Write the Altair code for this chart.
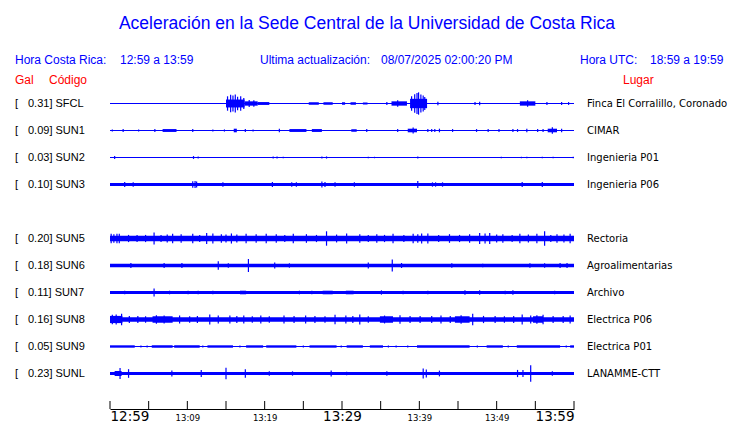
import altair as alt
import pandas as pd

# ---------------- data ----------------
stations = ["SFCL", "SUN1", "SUN2", "SUN3", "SUN5", "SUN6", "SUN7", "SUN8", "SUN9", "SUNL"]
rows = [0, 1, 2, 3, 5, 6, 7, 8, 9, 10]
peak_gal = ["0.31", "0.09", "0.03", "0.10", "0.20", "0.18", "0.11", "0.16", "0.05", "0.23"]
places = ["Finca El Corralillo, Coronado", "CIMAR", "Ingenieria P01", "Ingenieria P06",
          "Rectoria", "Agroalimentarias", "Archivo", "Electrica P06", "Electrica P01", "LANAMME-CTT"]

tick_minutes = list(range(0, 61, 5))
label_minutes = [0, 10, 20, 30, 40, 50, 60]
label_texts = ["12:59", "13:09", "13:19", "13:29", "13:39", "13:49", "13:59"]

# envelope bands (start min, end min, half amplitude in Gal) and spikes (min, half amplitude in Gal)
sfcl_bands = [(0, 60, 0.015), (15.0, 17.4, 0.11), (17.4, 19.1, 0.06), (19.1, 20.6, 0.04), (25.7, 27.0, 0.035),
              (27.6, 28.8, 0.035), (30.0, 30.4, 0.035), (31.1, 31.8, 0.035), (32.7, 33.3, 0.03), (36.4, 38.4, 0.06),
              (38.8, 41.0, 0.13), (53.0, 55.0, 0.06)]
sfcl_spikes = [(15.2, 0.20), (15.6, 0.24), (15.9, 0.22), (16.2, 0.25), (16.5, 0.19), (16.9, 0.20), (17.3, 0.15),
               (18.0, 0.10), (18.6, 0.09), (35.8, 0.04), (37.2, 0.09), (39.0, 0.20), (39.4, 0.26), (39.7, 0.29),
               (39.9, 0.31), (40.2, 0.25), (40.5, 0.22), (40.7, 0.18), (42.4, 0.05), (47.2, 0.04), (47.8, 0.05),
               (54.0, 0.09), (56.5, 0.04), (58.4, 0.04), (59.3, 0.04)]

sun1_bands = [(0, 60, 0.012), (6.8, 8.6, 0.04), (16.0, 16.4, 0.05), (23.2, 25.4, 0.04), (26.1, 27.4, 0.04),
              (31.2, 31.9, 0.035), (38.5, 39.7, 0.05), (50.2, 50.4, 0.035), (56.6, 57.8, 0.05)]
sun1_spikes = [(0.3, 0.03), (1.7, 0.04), (3.7, 0.03), (5.8, 0.04), (10.7, 0.04), (13.3, 0.03), (14.8, 0.03),
               (17.5, 0.04), (18.5, 0.03), (21.9, 0.05), (33.2, 0.04), (37.2, 0.04), (39.2, 0.08), (41.1, 0.04),
               (41.6, 0.04), (42.0, 0.04), (42.6, 0.05), (44.3, 0.04), (47.4, 0.04), (48.9, 0.04), (52.1, 0.04),
               (52.7, 0.04), (53.9, 0.05), (55.3, 0.04), (56.0, 0.04), (57.2, 0.09), (58.4, 0.05)]

sun2_bands = [(0, 60, 0.012)]
sun2_spikes = [(0.6, 0.04), (10.8, 0.04), (11.4, 0.03), (21.1, 0.03), (21.6, 0.03), (22.4, 0.02), (27.4, 0.03),
               (28.0, 0.03), (33.4, 0.02), (34.2, 0.02), (39.8, 0.03), (50.6, 0.02), (53.2, 0.02), (53.9, 0.02),
               (55.9, 0.02), (57.3, 0.02), (59.9, 0.02)]

sun3_bands = [(0, 60, 0.045)]
sun3_spikes = [(1.9, 0.07), (3.0, 0.06), (10.7, 0.09), (11.0, 0.10), (11.2, 0.08), (14.6, 0.06), (21.0, 0.07),
               (23.5, 0.06), (24.1, 0.06), (27.4, 0.08), (27.8, 0.07), (29.1, 0.06), (31.6, 0.06), (39.8, 0.10),
               (41.7, 0.06), (42.1, 0.06), (43.0, 0.06), (53.3, 0.07), (55.9, 0.07)]

sun5_bands = [(0, 60, 0.075)]
sun5_spikes = [(0.15, 0.13), (0.5, 0.12), (0.9, 0.13), (1.2, 0.13), (2.4, 0.1), (3.5, 0.1), (4.6, 0.1),
               (5.7, 0.17), (6.6, 0.1), (7.4, 0.11), (8.1, 0.13), (9.2, 0.12), (10.7, 0.13), (11.6, 0.1),
               (12.5, 0.15), (13.3, 0.14), (14.4, 0.12), (15.0, 0.11), (15.7, 0.14), (16.4, 0.11), (17.6, 0.13),
               (18.9, 0.12), (20.2, 0.13), (21.5, 0.12), (22.6, 0.1), (23.7, 0.13), (25.4, 0.12), (26.7, 0.1),
               (28.0, 0.20), (29.3, 0.11), (30.6, 0.14), (32.3, 0.12), (33.4, 0.1), (34.5, 0.12), (35.5, 0.1),
               (36.6, 0.13), (38.0, 0.1), (39.2, 0.13), (39.8, 0.12), (40.3, 0.14), (41.1, 0.14), (42.5, 0.1),
               (43.9, 0.12), (45.2, 0.1), (46.5, 0.12), (47.8, 0.15), (48.5, 0.14), (49.1, 0.15), (50.0, 0.11),
               (50.8, 0.12), (52.0, 0.1), (53.0, 0.13), (54.1, 0.11), (55.2, 0.13), (56.2, 0.20), (57.0, 0.1),
               (57.8, 0.12), (58.7, 0.11), (59.5, 0.13)]

sun6_bands = [(0, 60, 0.05)]
sun6_spikes = [(2.7, 0.07), (7.0, 0.07), (9.3, 0.07), (14.0, 0.12), (15.3, 0.06), (17.9, 0.18), (21.3, 0.08),
               (23.2, 0.06), (33.4, 0.08), (36.5, 0.17), (37.7, 0.07), (44.2, 0.06), (48.2, 0.05), (54.3, 0.06),
               (56.2, 0.06), (58.2, 0.07), (59.1, 0.07)]

sun7_bands = [(0, 60, 0.04), (16.8, 17.6, 0.05), (27.5, 28.8, 0.05), (30.5, 31.5, 0.05)]
sun7_spikes = [(1.9, 0.05), (5.7, 0.11), (7.7, 0.05), (10.1, 0.05), (11.4, 0.05), (13.3, 0.05), (24.5, 0.05),
               (26.1, 0.05), (35.1, 0.06), (37.9, 0.05), (41.1, 0.05), (45.9, 0.06), (47.8, 0.06), (51.1, 0.05),
               (52.1, 0.06), (57.5, 0.05)]

sun8_bands = [(0, 60, 0.065), (0, 1.6, 0.1), (5.5, 8.1, 0.09), (34.9, 36.6, 0.09), (44.6, 46.5, 0.09),
              (54.7, 56.0, 0.09)]
sun8_spikes = [(0.3, 0.13), (0.8, 0.14), (1.5, 0.16), (2.5, 0.1), (3.6, 0.1), (4.6, 0.09), (6.0, 0.12),
               (7.0, 0.11), (9.0, 0.11), (10.3, 0.09), (11.3, 0.1), (12.9, 0.14), (14.0, 0.11), (15.5, 0.11),
               (16.4, 0.1), (17.3, 0.11), (18.4, 0.09), (19.5, 0.11), (20.6, 0.09), (22.5, 0.11), (23.8, 0.1),
               (25.3, 0.11), (26.5, 0.10), (27.8, 0.09), (29.1, 0.13), (30.5, 0.11), (31.4, 0.1), (32.3, 0.14),
               (33.4, 0.09), (35.5, 0.11), (37.5, 0.12), (38.8, 0.1), (40.1, 0.1), (41.6, 0.1), (42.8, 0.11),
               (44.0, 0.1), (45.4, 0.12), (46.9, 0.16), (48.3, 0.1), (49.8, 0.1), (51.0, 0.09), (52.2, 0.1),
               (53.3, 0.14), (54.4, 0.11), (55.2, 0.12), (56.0, 0.13), (57.3, 0.1), (58.6, 0.1), (59.5, 0.11)]

sun9_bands = [(0, 60, 0.015), (0, 3.2, 0.033), (5.4, 8.1, 0.033), (8.3, 11.6, 0.033), (12.6, 15.9, 0.033),
              (17.6, 19.8, 0.033), (20.2, 24.1, 0.033), (25.8, 29.3, 0.033), (30.6, 32.7, 0.033),
              (33.6, 35.3, 0.033), (39.7, 46.5, 0.033), (48.7, 50.8, 0.033), (52.6, 58.2, 0.033), (59.5, 60, 0.033)]
sun9_spikes = [(4.0, 0.03), (4.8, 0.03), (12.0, 0.03), (16.8, 0.03), (25.0, 0.03), (29.9, 0.03), (36.0, 0.03),
               (37.0, 0.03), (38.5, 0.03), (47.5, 0.03), (51.5, 0.03), (59.0, 0.03)]

sunl_bands = [(0, 60, 0.045), (0.6, 1.5, 0.07)]
sunl_spikes = [(1.3, 0.15), (2.4, 0.12), (8.0, 0.08), (11.8, 0.10), (15.0, 0.16), (17.5, 0.12), (20.6, 0.06),
               (23.6, 0.06), (28.6, 0.08), (30.6, 0.05), (35.8, 0.06), (40.5, 0.14), (40.9, 0.11), (42.6, 0.08),
               (52.7, 0.10), (53.4, 0.10), (54.4, 0.23), (57.2, 0.06)]

all_bands = [sfcl_bands, sun1_bands, sun2_bands, sun3_bands, sun5_bands, sun6_bands, sun7_bands,
             sun8_bands, sun9_bands, sunl_bands]
all_spikes = [sfcl_spikes, sun1_spikes, sun2_spikes, sun3_spikes, sun5_spikes, sun6_spikes, sun7_spikes,
              sun8_spikes, sun9_spikes, sunl_spikes]

# ---------------- tables ----------------
GAIN = 36.0 / 27.0  # rows per Gal (common amplitude scale)
b_recs, s_recs = [], []
for st, r, bl, sl in zip(stations, rows, all_bands, all_spikes):
    for t0, t1, a in bl:
        b_recs.append({"station": st, "t0": t0, "t1": t1, "lo": r - a * GAIN, "hi": r + a * GAIN})
    for t, a in sl:
        s_recs.append({"station": st, "t": t, "lo": r - a * GAIN, "hi": r + a * GAIN})
df_b = pd.DataFrame(b_recs)
df_s = pd.DataFrame(s_recs)
df_lab = pd.DataFrame({"row": rows, "gal": [g + "] " + s for g, s in zip(peak_gal, stations)],
                       "place": places})
df_ticks = pd.DataFrame({"t": tick_minutes})

BLUE = "#0000ff"
RED = "#ff0000"
W, H = 464, 297

xs = alt.Scale(domain=[0, 60], nice=False, zero=False)
ys = alt.Scale(domain=[-0.5, 10.5], reverse=True, nice=False, zero=False)

lab_expr = "[" + ",".join("'" + s + "'" for s in label_texts) + "][round(datum.value / 10)]"
big_test = "datum.value % 30 == 0"
xaxis = alt.Axis(values=label_minutes, labelExpr=lab_expr, ticks=False, grid=False, title=None,
                 domainColor="black", domainWidth=1, offset=22, labelPadding=11,
                 labelBaseline="alphabetic",
                 labelFont="DejaVu Sans", labelColor="black",
                 labelFontSize={"condition": {"test": big_test, "value": 13.5}, "value": 8.5})

bands = alt.Chart(df_b).mark_rect(color=BLUE).encode(
    x=alt.X("t0:Q", scale=xs, axis=xaxis), x2="t1:Q",
    y=alt.Y("lo:Q", scale=ys, axis=None), y2="hi:Q")

spikes = alt.Chart(df_s).mark_rule(color=BLUE, strokeWidth=1.2).encode(
    x=alt.X("t:Q", scale=xs), y=alt.Y("lo:Q", scale=ys), y2="hi:Q")

ticks = alt.Chart(df_ticks).mark_rule(color="black", strokeWidth=1).encode(
    x=alt.X("t:Q", scale=xs), y=alt.value(H + 22 - 8), y2=alt.value(H + 22))

left_br = alt.Chart(df_lab).mark_text(align="left", baseline="middle", font="Liberation Sans",
                                      fontSize=11, color="black").encode(
    x=alt.value(-95), y=alt.Y("row:Q", scale=ys), text=alt.value("["))
left_lab = alt.Chart(df_lab).mark_text(align="left", baseline="middle", font="Liberation Sans",
                                       fontSize=11, color="black").encode(
    x=alt.value(-82), y=alt.Y("row:Q", scale=ys), text="gal:N")
right_lab = alt.Chart(df_lab).mark_text(align="left", baseline="middle", font="DejaVu Sans",
                                        fontSize=10, color="black").encode(
    x=alt.value(477), y=alt.Y("row:Q", scale=ys), text="place:N")

one = pd.DataFrame({"a": [0]})


def txt(s, x, y, size=12, color=BLUE, align="left"):
    return alt.Chart(one).mark_text(align=align, baseline="alphabetic", font="Liberation Sans",
                                    fontSize=size, color=color).encode(
        x=alt.value(x), y=alt.value(y), text=alt.value(s))


headers = [
    txt("Aceleración en la Sede Central de la Universidad de Costa Rica", 257, -61, size=17.5, align="center"),
    txt("Hora Costa Rica:", -95, -26),
    txt("12:59 a 13:59", 10, -26),
    txt("Ultima actualización:", 150, -26),
    txt("08/07/2025 02:00:20 PM", 271, -26),
    txt("Hora UTC:", 470, -26),
    txt("18:59 a 19:59", 540, -26),
    txt("Gal", -95, -6, color=RED),
    txt("Código", -61, -6, color=RED),
    txt("Lugar", 513, -6, color=RED),
]

chart = alt.layer(bands, spikes, ticks, left_br, left_lab, right_lab, *headers).properties(
    width=W, height=H,
    autosize=alt.AutoSizeParams(type="none"),
    padding={"left": 102, "top": 82, "right": 158, "bottom": 36},
).configure_view(stroke=None)

chart.save("out.html", embed_options={"renderer": "svg", "actions": False})
